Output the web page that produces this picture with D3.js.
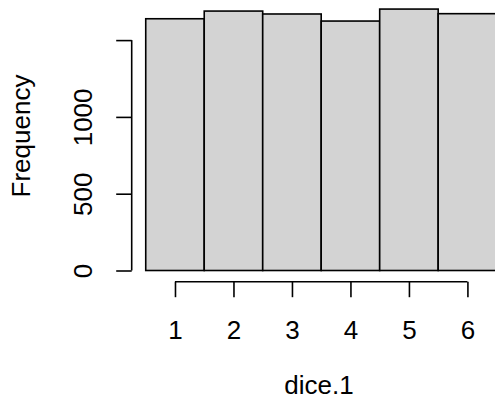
<!DOCTYPE html>
<html>
<head>
<meta charset="utf-8">
<script src="https://cdn.jsdelivr.net/npm/d3@7"></script>
<style>
  html, body { margin: 0; padding: 0; background: #ffffff; }
  svg { display: block; }
  text { font-family: "Liberation Sans", Arial, Helvetica, sans-serif; fill: #000; }
</style>
</head>
<body>
<div id="chart"></div>
<script>
// Histogram of 10,000 rolls of a die: one bin per face
const faces = [1, 2, 3, 4, 5, 6];
const counts = [1639, 1689, 1670, 1624, 1702, 1672];
const yTicks = [0, 500, 1000, 1500];
const yTickLabels = ["0", "500", "1000", ""];
const xLabel = "dice.1";
const yLabel = "Frequency";

const W = 495, H = 407;
const svg = d3.select("#chart").append("svg")
  .attr("width", W).attr("height", H);

// Plot region spans faces 0.26..6.74 and counts -68..1770
const x = d3.scaleLinear().domain([0.26, 6.74]).range([131.7, 510.7]);
const y = d3.scaleLinear().domain([0, 1500]).range([270.5, 40.1]);

const fontSize = 26;
const tickLen = 15.5;

// bars: each bin covers face-0.5 .. face+0.5
svg.append("g").selectAll("rect")
  .data(faces)
  .join("rect")
  .attr("x", d => x(d - 0.5))
  .attr("width", d => x(d + 0.5) - x(d - 0.5))
  .attr("y", (d, i) => y(counts[i]))
  .attr("height", (d, i) => y(0) - y(counts[i]))
  .attr("fill", "#d3d3d3")
  .attr("stroke", "#000")
  .attr("stroke-width", 1.6);

// x axis below the plot
const xAxisY = 281.7;
const gx = svg.append("g").attr("transform", `translate(0,${xAxisY})`)
  .call(d3.axisBottom(x).tickValues(faces).tickSize(tickLen).tickSizeOuter(0).tickFormat(d3.format("d")));
gx.select(".domain").attr("d", `M${x(1)},0H${x(6)}`).attr("stroke-width", 1.6);
gx.selectAll(".tick line").attr("stroke-width", 1.6);
gx.selectAll(".tick text")
  .attr("y", 339.3 - xAxisY).attr("dy", null)
  .style("font-size", fontSize + "px")
  .style("font-family", '"Liberation Sans", Arial, sans-serif');

// y axis left of the plot
const yAxisX = 131.7;
const gy = svg.append("g").attr("transform", `translate(${yAxisX},0)`)
  .call(d3.axisLeft(y).tickValues(yTicks).tickSize(tickLen).tickSizeOuter(0)
    .tickFormat((d, i) => yTickLabels[i]));
gy.select(".domain").attr("d", `M0,${y(0)}V${y(1500)}`).attr("stroke-width", 1.6);
gy.selectAll(".tick line").attr("stroke-width", 1.6);
gy.selectAll(".tick text")
  .attr("x", null).attr("dy", null)
  .attr("text-anchor", "middle")
  .attr("transform", `translate(${92.3 - yAxisX},0) rotate(-90)`)
  .style("font-size", fontSize + "px")
  .style("font-family", '"Liberation Sans", Arial, sans-serif');

// axis titles
svg.append("text")
  .attr("x", 319).attr("y", 394)
  .attr("text-anchor", "middle")
  .style("font-size", fontSize + "px")
  .text(xLabel);

svg.append("text")
  .attr("transform", "translate(30,136) rotate(-90)")
  .attr("text-anchor", "middle")
  .style("font-size", fontSize + "px")
  .text(yLabel);
</script>
</body>
</html>
